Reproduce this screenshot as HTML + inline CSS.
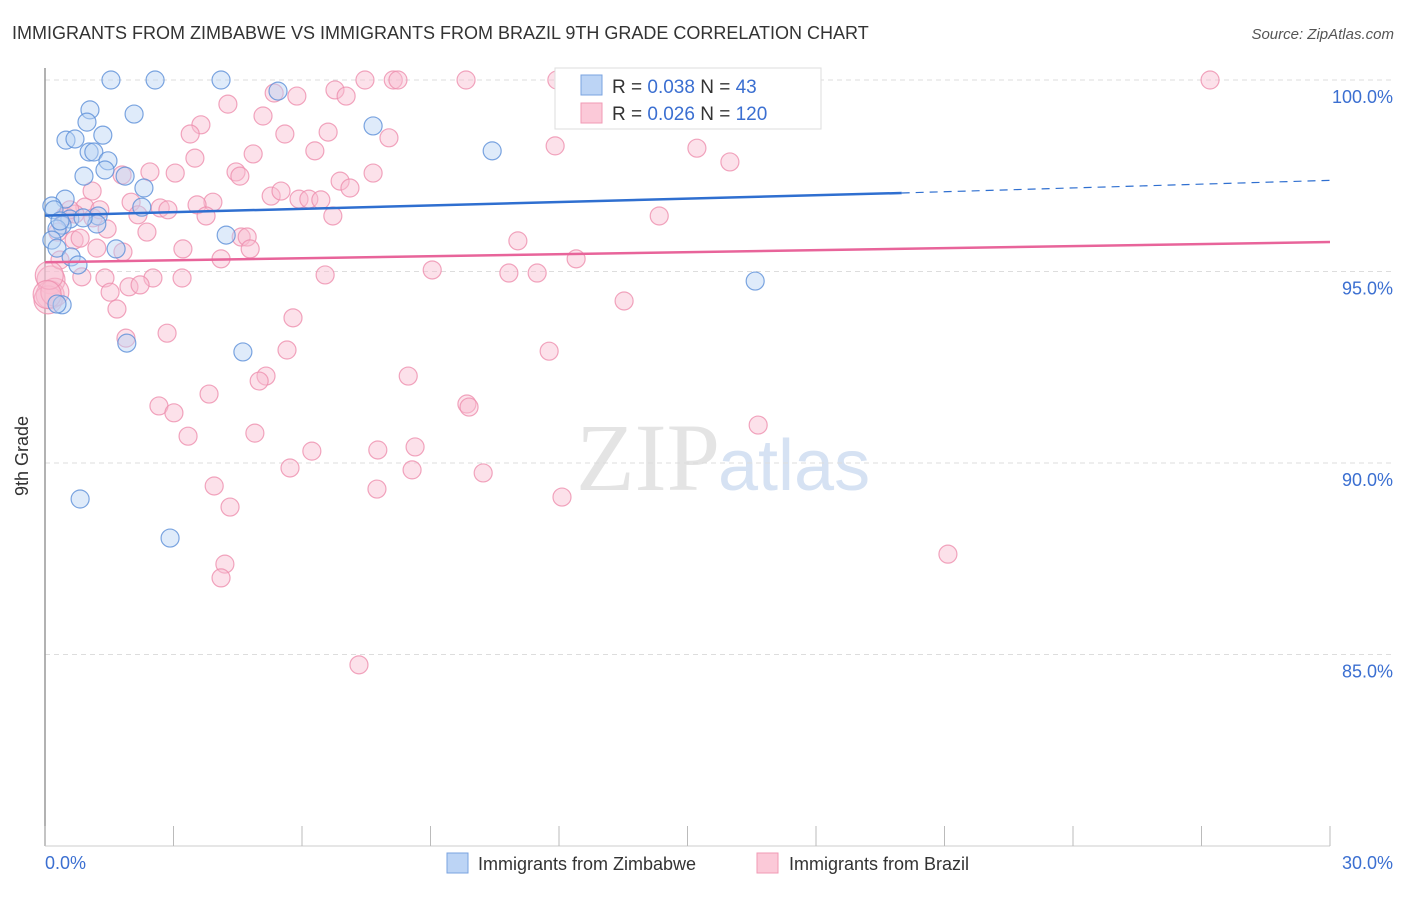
<!DOCTYPE html>
<html><head><meta charset="utf-8"><style>
body{margin:0;background:#fff;font-family:"Liberation Sans",sans-serif}
</style></head><body>
<svg width="1406" height="892" xmlns="http://www.w3.org/2000/svg" style="font-family:'Liberation Sans',sans-serif">
<text x="12" y="39" font-size="18" fill="#333">IMMIGRANTS FROM ZIMBABWE VS IMMIGRANTS FROM BRAZIL 9TH GRADE CORRELATION CHART</text>
<text x="1394" y="39" font-size="15" fill="#555" text-anchor="end" font-style="italic">Source: ZipAtlas.com</text>
<text x="720" y="490" font-size="96" fill="#e4e4e4" text-anchor="end" font-family="Liberation Serif">ZIP</text>
<text x="718" y="490" font-size="72" fill="#d6e2f3">atlas</text>
<g id="grid"></g>
<line x1="45" y1="68" x2="45" y2="846" stroke="#999" stroke-width="1.5"/>
<line x1="45" y1="846" x2="1330" y2="846" stroke="#ccc"/>
<g id="xticks"></g>
<text x="28" y="456" font-size="18" fill="#333" transform="rotate(-90 28 456)" text-anchor="middle">9th Grade</text>
<text x="45" y="869" font-size="18" fill="#3b6fd1">0.0%</text>
<text x="1393" y="869" font-size="18" fill="#3b6fd1" text-anchor="end">30.0%</text>
<g id="pts"></g>
<g id="trends"></g>
<g>
<rect x="555" y="68" width="266" height="61" fill="#fff" stroke="#ddd"/>
<rect x="581" y="75" width="21" height="20" fill="#bcd4f5" stroke="#7aa3e0"/>
<rect x="581" y="103" width="21" height="20" fill="#fbc9d8" stroke="#f09ab5"/>
<text x="612" y="93" font-size="19" fill="#333">R = <tspan fill="#3b6fd1">0.038</tspan>   N =   <tspan fill="#3b6fd1">43</tspan></text>
<text x="612" y="120" font-size="19" fill="#333">R = <tspan fill="#3b6fd1">0.026</tspan>   N = <tspan fill="#3b6fd1">120</tspan></text>
</g>
<g><rect x="447" y="853" width="21" height="20" fill="#bcd4f5" stroke="#7aa3e0"/><text x="478" y="870" font-size="18" fill="#333">Immigrants from Zimbabwe</text></g>
<g><rect x="757" y="853" width="21" height="20" fill="#fbc9d8" stroke="#f09ab5"/><text x="789" y="870" font-size="18" fill="#333">Immigrants from Brazil</text></g>
</svg>
<script>
const yTicks=[100,95,90,85];
const yTickLabels=["100.0%","95.0%","90.0%","85.0%"];
const xTickVals=[0,3,6,9,12,15,18,21,24,27,30];
const blueX=[1.54,2.57,4.11,5.44,2.08,1.05,0.49,0.70,1.35,0.98,1.03,1.14,1.47,1.40,1.87,0.91,2.31,0.47,0.16,0.21,2.26,1.24,1.21,0.58,0.89,0.40,0.28,0.16,0.28,1.66,0.61,0.77,4.23,7.66,10.44,16.58,0.40,0.28,1.91,4.62,0.82,2.92,0.35];
const blueY=[100,100,100,99.71,99.11,99.22,98.43,98.46,98.56,98.90,98.12,98.12,97.89,97.65,97.49,97.49,97.18,96.89,96.71,96.61,96.68,96.45,96.24,96.37,96.40,96.21,96.11,95.82,95.61,95.59,95.38,95.17,95.95,98.80,98.15,94.75,94.13,94.15,93.13,92.90,89.06,88.04,96.32];
const pinkX=[7.47,8.13,8.24,9.83,11.95,16.23,27.20,13.92,5.35,5.88,6.77,7.03,4.27,5.09,3.64,3.39,5.60,6.61,8.03,6.30,4.86,11.91,15.22,15.99,3.50,2.45,3.04,1.80,4.46,4.55,7.66,6.89,7.12,1.10,5.28,5.51,3.92,3.55,5.93,6.16,6.44,0.93,2.01,2.69,2.87,2.17,3.76,6.72,14.34,0.47,0.70,1.12,1.45,2.38,0.30,0.68,0.82,4.58,4.72,4.79,3.22,1.21,1.82,11.04,4.11,12.40,9.04,10.83,11.49,6.54,1.40,0.86,2.52,3.20,1.96,2.22,1.52,13.52,1.68,5.79,1.89,2.85,5.65,11.77,5.16,5.00,8.48,3.83,2.66,3.01,9.85,9.90,16.65,3.34,4.90,8.64,7.77,6.23,5.72,8.57,10.23,3.95,7.75,12.07,4.32,21.08,4.20,4.11,7.33,0.14,0.12,0.07,0.23,0.58,1.28,0.35,0.10,0.05];
const pinkY=[100,100,100,100,100,100,100,100,99.66,99.58,99.74,99.58,99.37,99.06,98.83,98.59,98.59,98.64,98.49,98.15,98.07,98.28,98.22,97.86,97.96,97.60,97.57,97.52,97.60,97.49,97.57,97.36,97.18,97.10,96.97,97.10,96.81,96.74,96.89,96.89,96.87,96.68,96.81,96.66,96.61,96.48,96.45,96.45,96.45,96.45,96.50,96.40,96.11,96.03,96.03,95.82,95.87,95.90,95.90,95.59,95.59,95.61,95.51,95.80,95.33,95.33,95.04,94.96,94.96,94.91,94.83,94.86,94.83,94.83,94.60,94.65,94.46,94.23,94.02,93.79,93.26,93.39,92.95,92.92,92.27,92.14,92.27,91.80,91.49,91.31,91.54,91.46,90.99,90.70,90.78,90.42,90.34,90.31,89.87,89.82,89.74,89.40,89.32,89.11,88.85,87.62,87.36,87.00,84.73,94.78,94.39,94.26,94.46,96.61,96.61,95.30,94.90,94.40];
const blueTrend=[96.46,97.05,97.38];const pinkTrend=[95.24,95.77];
const trendX=[0,20,30];
const NS="http://www.w3.org/2000/svg";
const X=v=>45+v*1285/30, Y=v=>80+(100-v)*38.3;
function mk(t,a,parent){const e=document.createElementNS(NS,t);for(const k in a)e.setAttribute(k,a[k]);document.getElementById(parent).appendChild(e);return e;}
yTicks.forEach((t,i)=>{
 const l=mk('line',{x1:45,x2:1395,y1:Y(t),y2:Y(t),stroke:'#ddd','stroke-dasharray':'5,4'},'grid');
 
 
 const tx=mk('text',{x:1393,y:Y(t)+23,'font-size':18,fill:'#3b6fd1','text-anchor':'end'},'grid');
 tx.textContent=yTickLabels[i];
 
 
});
xTickVals.forEach(v=>{
 const l=mk('line',{x1:X(v),x2:X(v),y1:826,y2:846,stroke:'#bbb'},'xticks');
 
 
});
function pts(xs,ys,fill,stroke,name){xs.forEach((x,i)=>{
 const c=mk('circle',{cx:X(x),cy:Y(ys[i]),r:(x<0.25&&ys[i]<95)?14:9,fill:fill,'fill-opacity':0.45,stroke:stroke,'stroke-opacity':0.8,'stroke-width':1.2},'pts');
 
 
});}
pts(pinkX,pinkY,'#f8bcd0','#ee8fae','brazil-point');
pts(blueX,blueY,'#b8d2f3','#5b8fd8','zimbabwe-point');
let l=mk('line',{x1:X(trendX[0]),y1:Y(blueTrend[0]),x2:X(trendX[1]),y2:Y(blueTrend[1]),stroke:'#2f6fd0','stroke-width':2.5},'trends');


l=mk('line',{x1:X(trendX[1]),y1:Y(blueTrend[1]),x2:X(trendX[2]),y2:Y(blueTrend[2]),stroke:'#2f6fd0','stroke-width':1.2,'stroke-dasharray':'8,6'},'trends');


l=mk('line',{x1:X(trendX[0]),y1:Y(pinkTrend[0]),x2:X(trendX[2]),y2:Y(pinkTrend[1]),stroke:'#e8649a','stroke-width':2.5},'trends');


</script>
</body></html>
